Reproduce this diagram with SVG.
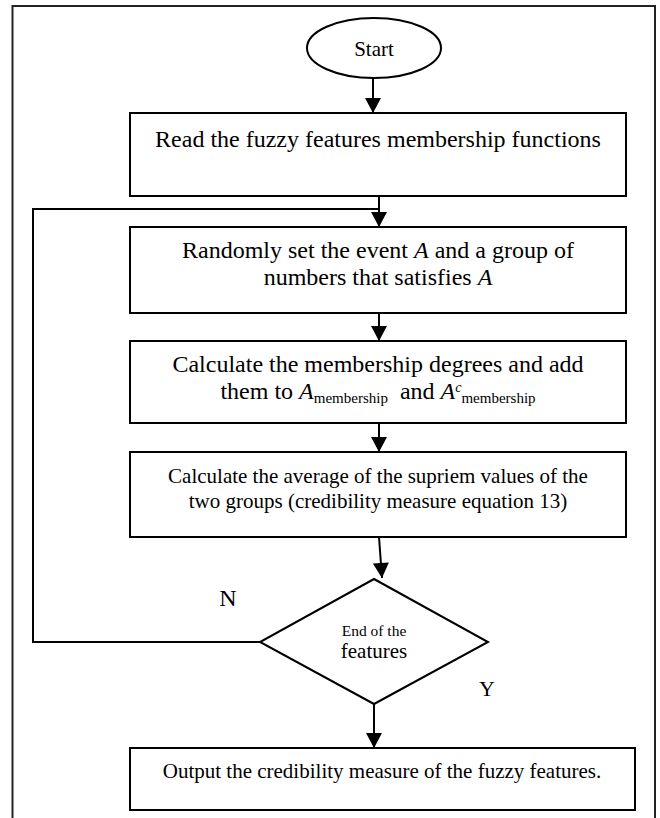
<svg xmlns="http://www.w3.org/2000/svg" width="660" height="818" viewBox="0 0 660 818">
<style>
.box{fill:#fff;stroke:#000;stroke-width:2}
.ln{fill:none;stroke:#000;stroke-width:2}
.t{font-family:"Liberation Serif","Times New Roman",serif;fill:#000;text-anchor:middle}
.i{font-style:italic}
</style>
<defs>
<marker id="ah" markerUnits="userSpaceOnUse" markerWidth="16" markerHeight="16" viewBox="0 0 15 16" refX="15" refY="8" orient="auto">
<path d="M0,0 L15,8 L0,16 z" fill="#000"/>
</marker>
</defs>
<rect width="660" height="818" fill="#fff"/>
<path d="M12.5,818 V6 H655 V818" fill="none" stroke="#222" stroke-width="2"/>
<g id="connectors">
<line class="ln" x1="373" y1="78" x2="373" y2="113" marker-end="url(#ah)"/>
<line class="ln" x1="379" y1="196" x2="379" y2="227" marker-end="url(#ah)"/>
<polyline class="ln" points="277,642 33,642 33,209 379,209"/>
<line class="ln" x1="379" y1="313" x2="379" y2="341" marker-end="url(#ah)"/>
<line class="ln" x1="379" y1="423" x2="379" y2="452" marker-end="url(#ah)"/>
<line class="ln" x1="379" y1="537" x2="382" y2="578" marker-end="url(#ah)"/>
<line class="ln" x1="374" y1="704" x2="374" y2="748" marker-end="url(#ah)"/>
<text class="t" x="228" y="606" font-size="24">N</text>
<text class="t" x="487" y="696" font-size="22">Y</text>
</g>
<g id="start">
<ellipse cx="374" cy="48" rx="67" ry="30" class="box"/>
<text class="t" x="374" y="56" font-size="21">Start</text>
</g>
<g id="read">
<rect x="130" y="113" width="496" height="83" class="box"/>
<text class="t" x="378" y="147" font-size="24">Read the fuzzy features membership functions</text>
</g>
<g id="random">
<rect x="130" y="227" width="496" height="86" class="box"/>
<text class="t" x="378" y="258" font-size="24">Randomly set the event <tspan class="i">A</tspan> and a group of</text>
<text class="t" x="378" y="285" font-size="24">numbers that satisfies <tspan class="i">A</tspan></text>
</g>
<g id="calcmem">
<rect x="130" y="341" width="496" height="82" class="box"/>
<text class="t" x="378" y="372" font-size="24">Calculate the membership degrees and add</text>
<text class="t" x="378" y="399" font-size="24">them to <tspan class="i">A</tspan><tspan font-size="15" dy="4">membership</tspan><tspan dy="-4" dx="6"> and </tspan><tspan class="i">A</tspan><tspan class="i" font-size="14" dy="-7">c</tspan><tspan font-size="15" dy="11">membership</tspan></text>
</g>
<g id="calcavg">
<rect x="130" y="452" width="496" height="85" class="box"/>
<text class="t" x="378" y="483" font-size="21">Calculate the average of the supriem values of the</text>
<text class="t" x="378" y="508" font-size="21">two groups (credibility measure equation 13)</text>
</g>
<g id="decision">
<polygon points="374,579 488,642 374,704 260,642" class="box"/>
<text class="t" x="374" y="636" font-size="15.5">End of the</text>
<text class="t" x="374" y="658" font-size="21">features</text>
</g>
<g id="output">
<rect x="130" y="748" width="505" height="62" class="box"/>
<text class="t" x="382" y="778" font-size="21">Output the credibility measure of the fuzzy features.</text>
</g>
</svg>
